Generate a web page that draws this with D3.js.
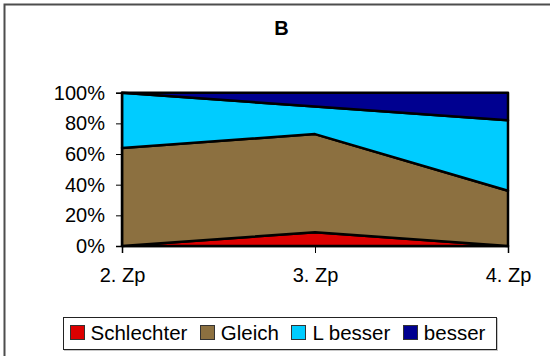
<!DOCTYPE html>
<html>
<head>
<meta charset="utf-8">
<script src="https://cdn.jsdelivr.net/npm/d3@7/dist/d3.min.js"></script>
<style>
  html, body { margin: 0; padding: 0; background: #fff; }
  svg { display: block; font-family: "Liberation Sans", Arial, sans-serif; }
</style>
</head>
<body>
<svg id="chart" width="550" height="356"></svg>
<script>
// Share of each rating per period (percent)
const categories = ["2. Zp", "3. Zp", "4. Zp"];
const schlechter = [0, 9, 0];
const gleich     = [64, 64, 36];
const lBesser    = [36, 18, 46];
const besser     = [0, 9, 18];
const seriesNames = ["Schlechter", "Gleich", "L besser", "besser"];
const yTicks = [0, 20, 40, 60, 80, 100];

const colors = ["#DD0000", "#8C7040", "#00CCFF", "#000090"];
const seriesValues = [schlechter, gleich, lBesser, besser];

const table = categories.map((c, i) => {
  const row = { cat: c };
  seriesNames.forEach((s, k) => { row[s] = seriesValues[k][i]; });
  return row;
});

const svg = d3.select("#chart");

// outer chart frame (runs off the right and bottom edges)
svg.append("rect")
  .attr("x", 4.5).attr("y", 4.5)
  .attr("width", 620).attr("height", 420)
  .attr("fill", "#fff")
  .attr("stroke", "#4d4d4d").attr("stroke-width", 2);

const x = d3.scalePoint().domain(categories).range([122, 508]);
const y = d3.scaleLinear().domain([0, 100]).range([246, 92.7]);

const stacked = d3.stack().keys(seriesNames)(table);

const area = d3.area()
  .x(d => x(d.data.cat))
  .y0(d => y(d[0]))
  .y1(d => y(d[1]));

svg.append("g").selectAll("path")
  .data(stacked)
  .join("path")
  .attr("d", area)
  .attr("fill", (d, i) => colors[i])
  .attr("stroke", "#000")
  .attr("stroke-width", 2.5)
  .attr("stroke-linejoin", "round");

// axes
const yAxis = d3.axisLeft(y)
  .tickValues(yTicks)
  .tickFormat(d => d + "%")
  .tickSize(6)
  .tickPadding(11);
const gy = svg.append("g").attr("transform", "translate(122,0)").call(yAxis);
gy.select(".domain").attr("stroke", "#000").attr("stroke-width", 1.5);
gy.selectAll(".tick line").attr("stroke", "#000");
gy.selectAll(".tick text")
  .attr("font-size", 20).attr("fill", "#000")
  .attr("font-family", "'Liberation Sans', Arial, sans-serif");

const xAxis = d3.axisBottom(x).tickSize(7).tickPadding(15);
const gx = svg.append("g").attr("transform", "translate(0,246)").call(xAxis);
gx.select(".domain").attr("stroke", "#000").attr("stroke-width", 1.5);
gx.selectAll(".tick line").attr("stroke", "#000");
gx.selectAll(".tick text")
  .attr("font-size", 20).attr("fill", "#000")
  .attr("font-family", "'Liberation Sans', Arial, sans-serif");

// title
svg.append("text")
  .attr("x", 281.5).attr("y", 34.5)
  .attr("text-anchor", "middle")
  .attr("font-size", 20).attr("font-weight", "bold")
  .text("B");

// legend
svg.append("rect")
  .attr("x", 64.5).attr("y", 318.5)
  .attr("width", 433).attr("height", 32)
  .attr("fill", "none").attr("stroke", "#c8c8c8").attr("stroke-width", 1);
svg.append("rect")
  .attr("x", 63.5).attr("y", 317.5)
  .attr("width", 433).attr("height", 32)
  .attr("fill", "#fff").attr("stroke", "#222").attr("stroke-width", 1);

const legend = svg.append("g");
let lx = 69.5;
seriesNames.forEach((name, i) => {
  legend.append("rect")
    .attr("x", Math.round(lx) + 0.5).attr("y", 325.5)
    .attr("width", 14).attr("height", 14)
    .attr("fill", colors[i]).attr("stroke", "#333").attr("stroke-width", 1);
  const t = legend.append("text")
    .attr("x", lx + 21).attr("y", 340)
    .attr("font-size", 20.5).attr("fill", "#000")
    .text(name);
  lx = lx + 21 + t.node().getComputedTextLength() + 12.5;
});
</script>
</body>
</html>
